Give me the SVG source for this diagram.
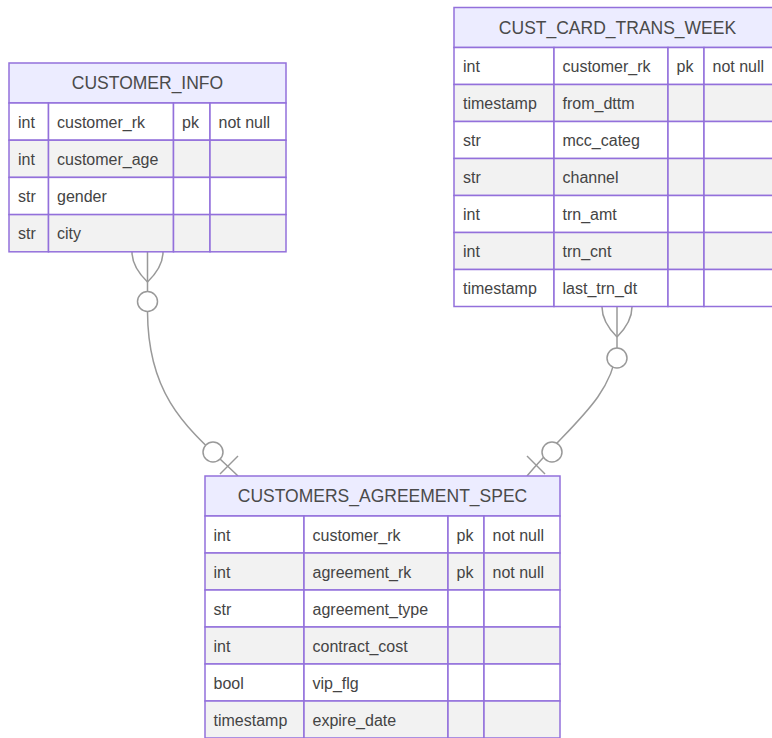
<svg xmlns="http://www.w3.org/2000/svg" width="772" height="738" viewBox="0 0 772 738">
<style>
.bg{fill:#ffffff}
.hdr{fill:#ECECFF;stroke:#9370DB;stroke-width:1.5}
.odd{fill:#ffffff;stroke:#9370DB;stroke-width:1.5}
.even{fill:#f2f2f2;stroke:#9370DB;stroke-width:1.5}
.ht{font-family:'Liberation Sans',Arial,sans-serif;font-size:17.5px;fill:#4a4a4a;text-anchor:middle}
.at{font-family:'Liberation Sans',Arial,sans-serif;font-size:16px;fill:#444}
.edge{fill:none;stroke:#999;stroke-width:1.5}
.mk{fill:#fff;stroke:#999;stroke-width:1.5}
</style>
<rect class="bg" x="0" y="0" width="772" height="738"/>
<g id="connectors">
  <path class="edge" d="M147.5,252 L147.5,312 C148,400 190,430 238,476"/>
  <path class="edge" d="M132,252 Q132,267 147.5,282 M163,252 Q163,267 147.5,282"/>
  <circle class="mk" cx="147.5" cy="301.5" r="10"/>
  <circle class="mk" cx="213" cy="452" r="10"/>
  <path class="edge" d="M220,474 L238,456"/>
  <path class="edge" d="M617,307 L617,350 C610,400 570,425 527,476"/>
  <path class="edge" d="M602,307 Q602,322 617,337 M632,307 Q632,322 617,337"/>
  <circle class="mk" cx="617" cy="358" r="10"/>
  <circle class="mk" cx="552" cy="452" r="10"/>
  <path class="edge" d="M545,474 L527,456"/>
</g>
<g id="CUSTOMER_INFO">
  <rect class="hdr" x="9" y="63" width="277" height="40"/>
  <text class="ht" x="147.5" y="89">CUSTOMER_INFO</text>
  <rect class="odd" x="9" y="103" width="39.5" height="37.2"/><rect class="odd" x="48.5" y="103" width="125" height="37.2"/><rect class="odd" x="173.5" y="103" width="36.5" height="37.2"/><rect class="odd" x="210" y="103" width="76" height="37.2"/>
  <rect class="even" x="9" y="140.2" width="39.5" height="37.2"/><rect class="even" x="48.5" y="140.2" width="125" height="37.2"/><rect class="even" x="173.5" y="140.2" width="36.5" height="37.2"/><rect class="even" x="210" y="140.2" width="76" height="37.2"/>
  <rect class="odd" x="9" y="177.4" width="39.5" height="37.2"/><rect class="odd" x="48.5" y="177.4" width="125" height="37.2"/><rect class="odd" x="173.5" y="177.4" width="36.5" height="37.2"/><rect class="odd" x="210" y="177.4" width="76" height="37.2"/>
  <rect class="even" x="9" y="214.6" width="39.5" height="37.2"/><rect class="even" x="48.5" y="214.6" width="125" height="37.2"/><rect class="even" x="173.5" y="214.6" width="36.5" height="37.2"/><rect class="even" x="210" y="214.6" width="76" height="37.2"/>
  <text class="at" x="18" y="127.5">int</text><text class="at" x="57" y="127.5">customer_rk</text><text class="at" x="182" y="127.5">pk</text><text class="at" x="218.5" y="127.5">not null</text>
  <text class="at" x="18" y="164.7">int</text><text class="at" x="57" y="164.7">customer_age</text>
  <text class="at" x="18" y="201.9">str</text><text class="at" x="57" y="201.9">gender</text>
  <text class="at" x="18" y="239.1">str</text><text class="at" x="57" y="239.1">city</text>
</g>
<g id="CUST_CARD_TRANS_WEEK">
  <rect class="hdr" x="454" y="7.5" width="327" height="40"/>
  <text class="ht" x="617.5" y="34">CUST_CARD_TRANS_WEEK</text>
  <rect class="odd" x="454" y="47.5" width="100" height="37"/><rect class="odd" x="554" y="47.5" width="114" height="37"/><rect class="odd" x="668" y="47.5" width="36" height="37"/><rect class="odd" x="704" y="47.5" width="77" height="37"/>
  <rect class="even" x="454" y="84.5" width="100" height="37"/><rect class="even" x="554" y="84.5" width="114" height="37"/><rect class="even" x="668" y="84.5" width="36" height="37"/><rect class="even" x="704" y="84.5" width="77" height="37"/>
  <rect class="odd" x="454" y="121.5" width="100" height="37"/><rect class="odd" x="554" y="121.5" width="114" height="37"/><rect class="odd" x="668" y="121.5" width="36" height="37"/><rect class="odd" x="704" y="121.5" width="77" height="37"/>
  <rect class="even" x="454" y="158.5" width="100" height="37"/><rect class="even" x="554" y="158.5" width="114" height="37"/><rect class="even" x="668" y="158.5" width="36" height="37"/><rect class="even" x="704" y="158.5" width="77" height="37"/>
  <rect class="odd" x="454" y="195.5" width="100" height="37"/><rect class="odd" x="554" y="195.5" width="114" height="37"/><rect class="odd" x="668" y="195.5" width="36" height="37"/><rect class="odd" x="704" y="195.5" width="77" height="37"/>
  <rect class="even" x="454" y="232.5" width="100" height="37"/><rect class="even" x="554" y="232.5" width="114" height="37"/><rect class="even" x="668" y="232.5" width="36" height="37"/><rect class="even" x="704" y="232.5" width="77" height="37"/>
  <rect class="odd" x="454" y="269.5" width="100" height="37"/><rect class="odd" x="554" y="269.5" width="114" height="37"/><rect class="odd" x="668" y="269.5" width="36" height="37"/><rect class="odd" x="704" y="269.5" width="77" height="37"/>
  <text class="at" x="463" y="72">int</text><text class="at" x="562.5" y="72">customer_rk</text><text class="at" x="676.5" y="72">pk</text><text class="at" x="712.5" y="72">not null</text>
  <text class="at" x="463" y="109">timestamp</text><text class="at" x="562.5" y="109">from_dttm</text>
  <text class="at" x="463" y="146">str</text><text class="at" x="562.5" y="146">mcc_categ</text>
  <text class="at" x="463" y="183">str</text><text class="at" x="562.5" y="183">channel</text>
  <text class="at" x="463" y="220">int</text><text class="at" x="562.5" y="220">trn_amt</text>
  <text class="at" x="463" y="257">int</text><text class="at" x="562.5" y="257">trn_cnt</text>
  <text class="at" x="463" y="294">timestamp</text><text class="at" x="562.5" y="294">last_trn_dt</text>
</g>
<g id="CUSTOMERS_AGREEMENT_SPEC">
  <rect class="hdr" x="205" y="476" width="355" height="40"/>
  <text class="ht" x="382.5" y="502">CUSTOMERS_AGREEMENT_SPEC</text>
  <rect class="odd" x="205" y="516" width="99" height="37"/><rect class="odd" x="304" y="516" width="144" height="37"/><rect class="odd" x="448" y="516" width="36" height="37"/><rect class="odd" x="484" y="516" width="76" height="37"/>
  <rect class="even" x="205" y="553" width="99" height="37"/><rect class="even" x="304" y="553" width="144" height="37"/><rect class="even" x="448" y="553" width="36" height="37"/><rect class="even" x="484" y="553" width="76" height="37"/>
  <rect class="odd" x="205" y="590" width="99" height="37"/><rect class="odd" x="304" y="590" width="144" height="37"/><rect class="odd" x="448" y="590" width="36" height="37"/><rect class="odd" x="484" y="590" width="76" height="37"/>
  <rect class="even" x="205" y="627" width="99" height="37"/><rect class="even" x="304" y="627" width="144" height="37"/><rect class="even" x="448" y="627" width="36" height="37"/><rect class="even" x="484" y="627" width="76" height="37"/>
  <rect class="odd" x="205" y="664" width="99" height="37"/><rect class="odd" x="304" y="664" width="144" height="37"/><rect class="odd" x="448" y="664" width="36" height="37"/><rect class="odd" x="484" y="664" width="76" height="37"/>
  <rect class="even" x="205" y="701" width="99" height="37"/><rect class="even" x="304" y="701" width="144" height="37"/><rect class="even" x="448" y="701" width="36" height="37"/><rect class="even" x="484" y="701" width="76" height="37"/>
  <text class="at" x="213.5" y="540.5">int</text><text class="at" x="312.5" y="540.5">customer_rk</text><text class="at" x="456.5" y="540.5">pk</text><text class="at" x="492.5" y="540.5">not null</text>
  <text class="at" x="213.5" y="577.5">int</text><text class="at" x="312.5" y="577.5">agreement_rk</text><text class="at" x="456.5" y="577.5">pk</text><text class="at" x="492.5" y="577.5">not null</text>
  <text class="at" x="213.5" y="614.5">str</text><text class="at" x="312.5" y="614.5">agreement_type</text>
  <text class="at" x="213.5" y="651.5">int</text><text class="at" x="312.5" y="651.5">contract_cost</text>
  <text class="at" x="213.5" y="688.5">bool</text><text class="at" x="312.5" y="688.5">vip_flg</text>
  <text class="at" x="213.5" y="725.5">timestamp</text><text class="at" x="312.5" y="725.5">expire_date</text>
</g>
</svg>
